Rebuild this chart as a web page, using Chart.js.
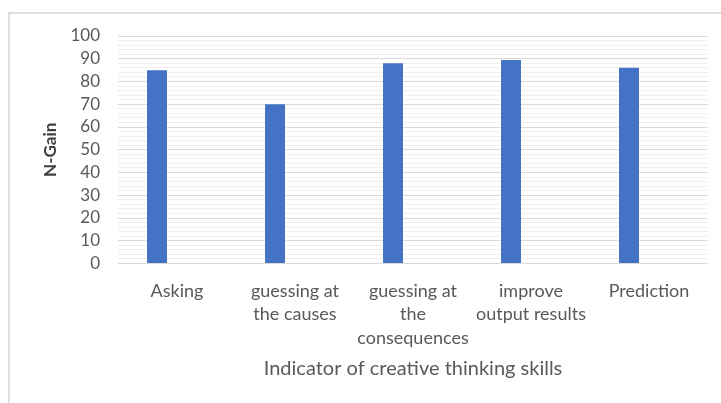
<!DOCTYPE html>
<html>
<head>
<meta charset="utf-8">
<script src="https://cdn.jsdelivr.net/npm/chart.js@4/dist/chart.umd.min.js"></script>
<style>
  html, body { margin: 0; padding: 0; background: #ffffff; }
  #wrap { position: relative; width: 721px; height: 403px; overflow: hidden; }
  #marco {
    position: absolute; left: 8px; top: 12px; width: 800px; height: 500px;
    border: 2px solid #dedede; pointer-events: none; box-sizing: border-box;
  }
  canvas { position: absolute; left: 0; top: 0; }
</style>
</head>
<body>
<div id="wrap">
  <div id="marco"></div>
  <canvas id="grafico" width="721" height="403"></canvas>
</div>
<script>
// ========== DATOS ==========
const categorias = [
  ["Asking"],
  ["guessing at", "the causes"],
  ["guessing at", "the", "consequences"],
  ["improve", "output results"],
  ["Prediction"]
];
const valoresNGain = [85, 70, 88, 89.5, 86];
const serieVacia1 = [];
const serieVacia2 = [];
const tituloY = "N-Gain";
const tituloX = "Indicator of creative thinking skills";

// ========== GRAFICO ==========
const fuente = 'Lato, "Open Sans", sans-serif';
const colorTexto = '#595959';

new Chart(document.getElementById('grafico'), {
  type: 'bar',
  data: {
    labels: categorias,
    datasets: [
      { data: valoresNGain, backgroundColor: '#4472C4', borderWidth: 0 },
      { data: serieVacia1, backgroundColor: '#ED7D31' },
      { data: serieVacia2, backgroundColor: '#A5A5A5' }
    ]
  },
  options: {
    responsive: false,
    animation: false,
    categoryPercentage: 0.508,
    barPercentage: 1,
    layout: { padding: { left: 0, right: 13, top: 36, bottom: 0 } },
    plugins: {
      legend: { display: false },
      tooltip: { enabled: false }
    },
    scales: {
      x: {
        grid: { display: false },
        border: { display: false },
        ticks: {
          color: colorTexto,
          font: { family: fuente, size: 18, lineHeight: 1.3 },
          padding: 8,
          maxRotation: 0,
          autoSkip: false
        },
        title: {
          display: true,
          text: tituloX,
          color: colorTexto,
          font: { family: fuente, size: 20 },
          padding: { top: 0, bottom: 22 }
        },
        afterFit(scale) { scale.height = 139.5; }
      },
      y: {
        min: 0,
        max: 100,
        border: { display: false },
        grid: {
          drawTicks: false,
          color: (c) => (c.tick && c.tick.value % 10 === 0) ? '#d9d9d9' : '#f0f0f0',
          lineWidth: 1
        },
        ticks: {
          stepSize: 2,
          autoSkip: false,
          padding: 18,
          color: colorTexto,
          font: { family: fuente, size: 17 },
          callback: (v) => (v % 10 === 0 ? v : '')
        },
        title: {
          display: true,
          text: tituloY,
          color: '#404040',
          font: { family: fuente, size: 17, weight: 'bold' },
          padding: { top: 40, bottom: 0 }
        },
        afterFit(scale) { scale.width = 118; }
      }
    }
  }
});
</script>
</body>
</html>
